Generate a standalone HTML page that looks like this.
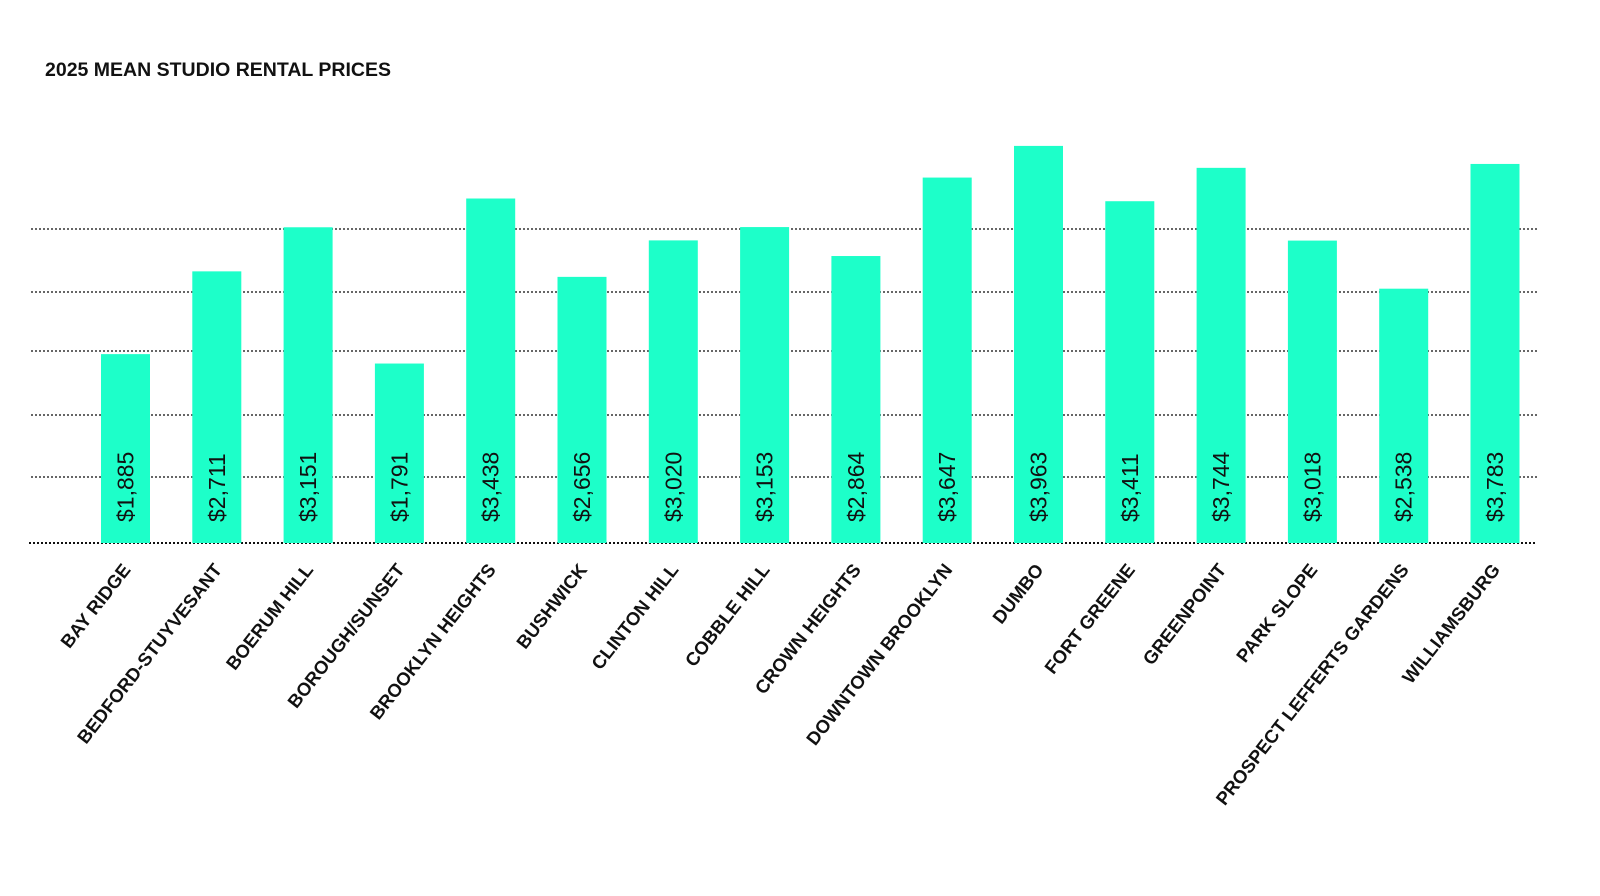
<!DOCTYPE html>
<html><head><meta charset="utf-8"><style>
html,body{margin:0;padding:0;background:#fff;}
svg{display:block;font-family:"Liberation Sans",sans-serif;}
</style></head><body>
<svg id="chart" width="1600" height="896" viewBox="0 0 1600 896">
<text x="45" y="76" font-size="19.5" font-weight="bold" fill="#111">2025 MEAN STUDIO RENTAL PRICES</text>
<g id="grid"></g><g id="bars"></g><g id="labels"></g>
</svg>
<script>
const categories=["BAY RIDGE","BEDFORD-STUYVESANT","BOERUM HILL","BOROUGH/SUNSET","BROOKLYN HEIGHTS","BUSHWICK","CLINTON HILL","COBBLE HILL","CROWN HEIGHTS","DOWNTOWN BROOKLYN","DUMBO","FORT GREENE","GREENPOINT","PARK SLOPE","PROSPECT LEFFERTS GARDENS","WILLIAMSBURG"];
const values=[1885,2711,3151,1791,3438,2656,3020,3153,2864,3647,3963,3411,3744,3018,2538,3783];
const gridValues=[659,1277,1916,2505,3134];
const ns="http://www.w3.org/2000/svg";
const baseY=543, pxPer=0.1002, x0=125.5, step=91.3, bw=49;
const y=v=>baseY-v*pxPer;
const x=i=>x0+i*step;
function mk(t,a,p){const e=document.createElementNS(ns,t);for(const k in a)e.setAttribute(k,a[k]);p.appendChild(e);return e;}
const grid=document.getElementById('grid'),bars=document.getElementById('bars'),labels=document.getElementById('labels');
gridValues.forEach(g=>{
  const l=mk('line',{x1:31,x2:1537,y1:y(g),y2:y(g),stroke:'#333','stroke-width':1.5,'stroke-dasharray':'2,2'},grid);
  
  
});
values.forEach((v,i)=>{
  const r=mk('rect',{x:x(i)-bw/2,y:y(v),width:bw,height:baseY-y(v),fill:'#1dffc9'},bars);
  
  
  const t=mk('text',{x:0,y:0,transform:`translate(${x(i)+8},522) rotate(-90)`,'font-size':23,fill:'#111'},bars);
  t.textContent='$'+v.toLocaleString('en-US');
  
  
  const c=mk('text',{x:0,y:0,transform:`translate(${x(i)+6},570) rotate(-52)`,'font-size':18.5,'font-weight':'bold','text-anchor':'end',fill:'#111'},labels);
  c.textContent=categories[i];
  
  
});
const b=mk('line',{x1:29,x2:1537,y1:baseY,y2:baseY,stroke:'#111','stroke-width':2,'stroke-dasharray':'2,2'},grid);


</script>
</body></html>
